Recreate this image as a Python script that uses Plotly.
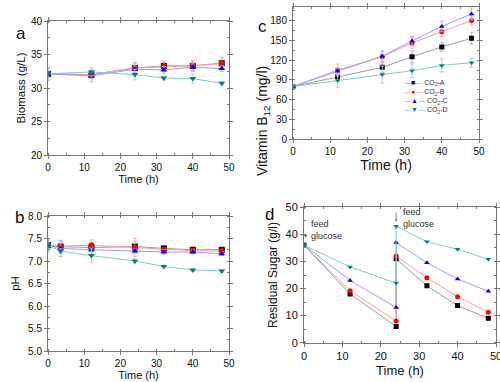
import plotly.graph_objects as go

# ---------------- data ----------------
series_names = ["CO<sub>2</sub>-A", "CO<sub>2</sub>-B", "CO<sub>2</sub>-C", "CO<sub>2</sub>-D"]

time_a = [0, 12, 24, 32, 40, 48]
biomass_A = [32.1, 32.0, 33.0, 33.3, 33.3, 33.7]
biomass_B = [32.1, 32.0, 33.0, 33.2, 33.3, 33.7]
biomass_C = [32.1, 31.8, 32.8, 32.7, 33.1, 32.9]
biomass_D = [32.1, 32.4, 32.0, 31.5, 31.4, 30.7]
biomass_err_A = [0.5, 0.6, 0.8, 0.7, 0.7, 0.8]
biomass_err_B = [0.5, 0.6, 0.6, 0.6, 0.8, 0.9]
biomass_err_C = [1.0, 0.9, 0.5, 0.5, 0.5, 0.4]
biomass_err_D = [0.8, 0.6, 0.8, 0.3, 0.7, 0.3]

time_b = [0, 3.5, 12, 24, 32, 40, 48]
ph_A = [7.35, 7.32, 7.30, 7.32, 7.28, 7.25, 7.25]
ph_B = [7.35, 7.33, 7.35, 7.30, 7.25, 7.23, 7.22]
ph_C = [7.35, 7.28, 7.25, 7.22, 7.20, 7.20, 7.16]
ph_D = [7.35, 7.22, 7.12, 7.00, 6.88, 6.80, 6.78]
ph_err_A = [0.10, 0.12, 0.08, 0.10, 0.04, 0.04, 0.04]
ph_err_B = [0.10, 0.10, 0.12, 0.20, 0.05, 0.04, 0.04]
ph_err_C = [0.15, 0.18, 0.05, 0.05, 0.05, 0.04, 0.04]
ph_err_D = [0.12, 0.05, 0.15, 0.06, 0.03, 0.03, 0.03]

time_c = [0, 12, 24, 32, 40, 48]
b12_A = [80, 95, 109, 125, 140, 153]
b12_B = [80, 105, 125, 146, 163, 180]
b12_C = [80, 103, 126, 149, 171, 190]
b12_D = [80, 89, 98, 104, 112, 116]
b12_err_A = [3, 5, 8, 9, 7, 9]
b12_err_B = [3, 9, 9, 8, 8, 7]
b12_err_C = [3, 5, 8, 7, 8, 9]
b12_err_D = [4, 10, 13, 10, 10, 7]

time_d = [0, 12, 24, 24, 32, 40, 48]
sugar_A = [36, 18, 6, 31, 21, 13.7, 9]
sugar_B = [36, 19.2, 8, 32, 24, 17, 11.2]
sugar_C = [36, 23, 13, 37, 29.5, 23.5, 19]
sugar_D = [36, 28, 22, 43, 37.3, 34.5, 30.8]

# ---------------- styles ----------------
marker_colors = ["#000000", "#ff0000", "#0000ff", "#008080"]
line_colors = ["#9a9a9a", "#ff9a9a", "#9a9aff", "#7fcaca"]
err_colors = ["#bbbbbb", "#ffb0b0", "#b0b0ff", "#a0d8d8"]
symbols = ["square", "circle", "triangle-up", "triangle-down"]
legend_glyphs = ["\u25a0", "\u25cf", "\u25b2", "\u25bc"]
FONT = "Arial, Liberation Sans, sans-serif"

fig = go.Figure()

panels = [
    ("x", "y", time_a, [biomass_A, biomass_B, biomass_C, biomass_D],
     [biomass_err_A, biomass_err_B, biomass_err_C, biomass_err_D], 6),
    ("x2", "y2", time_b, [ph_A, ph_B, ph_C, ph_D],
     [ph_err_A, ph_err_B, ph_err_C, ph_err_D], 6),
    ("x3", "y3", time_c, [b12_A, b12_B, b12_C, b12_D],
     [b12_err_A, b12_err_B, b12_err_C, b12_err_D], 5),
    ("x4", "y4", time_d, [sugar_A, sugar_B, sugar_C, sugar_D], None, 5),
]

for pi, (xa, ya, tx, ys, errs, msize) in enumerate(panels):
    for i in range(4):
        err = None
        if errs is not None:
            err = dict(type="data", array=errs[i], visible=True,
                       color=err_colors[i], thickness=1, width=2)
        fig.add_trace(go.Scatter(
            x=tx, y=ys[i], xaxis=xa, yaxis=ya, mode="lines+markers",
            name=series_names[i], showlegend=False,
            line=dict(color=line_colors[i], width=1),
            marker=dict(symbol=symbols[i], color=marker_colors[i], size=msize,
                        line=dict(width=0)),
            error_y=err,
        ))

def W(px):
    return px / 500.0

def H(px):
    return 1 - px / 382.0

axcommon = dict(showgrid=False, zeroline=False, showline=True, linecolor="#777777",
                linewidth=1, mirror="ticks", ticks="outside", ticklen=3, automargin=False,
                ticklabeloverflow="allow",
                tickcolor="#777777", tickfont=dict(family=FONT, size=10, color="#111"))

minor = dict(ticks="inside", ticklen=2, tickcolor="#777777")

layout = dict(
    width=500, height=382, margin=dict(l=0, r=0, t=0, b=0, autoexpand=False),
    plot_bgcolor="white", paper_bgcolor="white",
    font=dict(family=FONT, color="#111"),
    showlegend=False,
)

# panel a
layout["xaxis"] = dict(axcommon, domain=[W(48), W(229)], anchor="y", range=[0, 50], dtick=10,
                       minor=dict(minor, dtick=5),
                       title=dict(text="Time (h)", font=dict(size=11), standoff=2))
layout["yaxis"] = dict(axcommon, domain=[H(155), H(21)], anchor="x", range=[20, 40], dtick=5,
                       minor=dict(minor, dtick=2.5),
                       title=dict(text="Biomass (g/L)", font=dict(size=11.5), standoff=2))
# panel b
layout["xaxis2"] = dict(axcommon, domain=[W(48), W(229)], anchor="y2", range=[0, 50], dtick=10,
                        minor=dict(minor, dtick=5),
                        title=dict(text="Time (h)", font=dict(size=11), standoff=2))
layout["yaxis2"] = dict(axcommon, domain=[H(351), H(216)], anchor="x2", range=[5, 8], dtick=0.5,
                        tickformat=".1f", minor=dict(minor, dtick=0.25),
                        title=dict(text="pH", font=dict(size=11.5), standoff=6))
# panel c
layout["xaxis3"] = dict(axcommon, domain=[W(293), W(479)], anchor="y3", range=[0, 50], dtick=10,
                        minor=dict(minor, dtick=5),
                        title=dict(text="Time (h)", font=dict(size=14), standoff=2))
layout["yaxis3"] = dict(axcommon, domain=[H(139.3), H(7.3)], anchor="x3", range=[0, 200],
                        tickvals=[0, 30, 60, 90, 120, 150, 180],
                        minor=dict(minor, dtick=15))
# panel d
layout["xaxis4"] = dict(axcommon, domain=[W(304), W(496)], anchor="y4", range=[0, 50], dtick=10,
                        minor=dict(minor, dtick=5),
                        tickfont=dict(family=FONT, size=11, color="#111"),
                        title=dict(text="Time (h)", font=dict(size=13), standoff=4))
layout["yaxis4"] = dict(axcommon, domain=[H(342.7), H(207.3)], anchor="x4", range=[0, 50], dtick=10,
                        minor=dict(minor, dtick=5),
                        tickfont=dict(family=FONT, size=11, color="#111"),
                        title=dict(text="Residual Sugar (g/l)", font=dict(size=12), standoff=5))

fig.update_layout(**layout)

# panel c y title (placed off-centre like the reference)
fig.add_annotation(text="Vitamin B<sub>12</sub> (mg/l)", x=W(263), y=H(64), xref="paper", yref="paper",
                   textangle=-90, showarrow=False, font=dict(family=FONT, size=14, color="#111"))

# compact legend for panel c (as text lines)
legend_lines = []
for i in range(4):
    legend_lines.append(
        f'<span style="color:{line_colors[i]}">\u2014</span>'
        f'<span style="color:{marker_colors[i]}">{legend_glyphs[i]}</span>'
        f'<span style="color:{line_colors[i]}">\u2014</span> {series_names[i]}')
fig.add_annotation(text="<br>".join(legend_lines), x=W(402), y=H(77), xref="paper", yref="paper",
                   xanchor="left", yanchor="top", align="left", showarrow=False,
                   font=dict(family=FONT, size=7, color="#333"))

# panel letters
for letter, px, py in [("a", 14, 22), ("b", 13, 217), ("c", 262, 15), ("d", 269, 214)]:
    fig.add_annotation(text=letter, x=W(px), y=H(py), xref="paper", yref="paper",
                       showarrow=False, font=dict(family=FONT, size=17, color="#111"))

# feed glucose annotations in panel d
fig.add_annotation(text="feed<br>glucose", x=1.3, y=41.6, xref="x4", yref="y4",
                   xanchor="left", yanchor="middle", align="left", showarrow=False,
                   font=dict(family=FONT, size=9, color="#333"))
fig.add_annotation(text="feed<br>glucose", x=25.3, y=46.2, xref="x4", yref="y4",
                   xanchor="left", yanchor="middle", align="left", showarrow=False,
                   font=dict(family=FONT, size=9, color="#333"))
fig.add_annotation(x=0.4, y=38.8, ax=0.4, ay=40.6, xref="x4", yref="y4", axref="x4", ayref="y4",
                   text="", showarrow=True, arrowhead=2, arrowsize=0.6, arrowwidth=1,
                   arrowcolor="#555")
fig.add_annotation(x=24, y=44.6, ax=24, ay=48.6, xref="x4", yref="y4", axref="x4", ayref="y4",
                   text="", showarrow=True, arrowhead=2, arrowsize=0.6, arrowwidth=1,
                   arrowcolor="#888")

fig.write_html("out.html", config={"displayModeBar": False},
               post_script="document.body.style.margin='0';document.body.style.padding='0';")
